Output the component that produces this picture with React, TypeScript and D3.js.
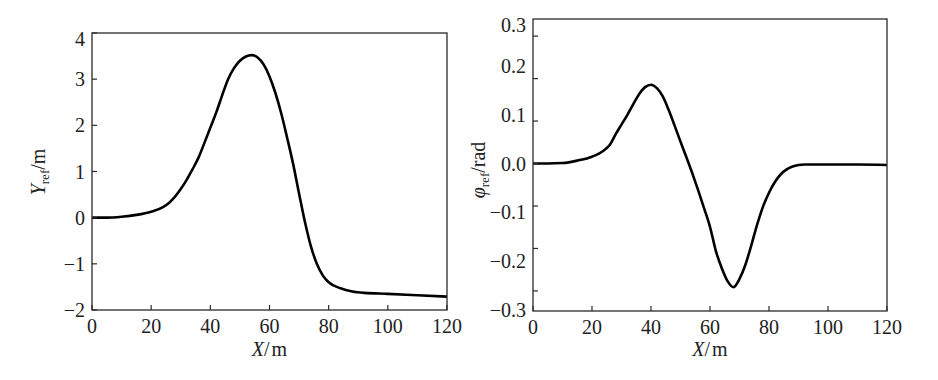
import React from "react";
import * as d3 from "d3";

// ---- data ----
const xTicks = [0, 20, 40, 60, 80, 100, 120];

const yLeftTicks = [-2, -1, 0, 1, 2, 3, 4];
const leftX = [0, 5, 10, 15, 20, 24, 26, 28, 30, 32, 34, 36, 38, 40, 42, 44, 46, 48, 50, 52, 54, 56, 58, 60, 62, 64, 66, 68, 70, 72, 74, 76, 78, 80, 84, 88, 92, 100, 110, 120];
const leftY = [0, 0, 0.02, 0.06, 0.13, 0.23, 0.32, 0.45, 0.62, 0.82, 1.05, 1.3, 1.62, 1.95, 2.28, 2.65, 3.0, 3.24, 3.4, 3.49, 3.52, 3.47, 3.32, 3.06, 2.7, 2.25, 1.72, 1.16, 0.52, -0.1, -0.62, -1.0, -1.25, -1.4, -1.53, -1.6, -1.63, -1.65, -1.68, -1.71];

const yRightLabels = [-0.3, -0.2, -0.1, 0.0, 0.1, 0.2, 0.3];
const yRightTickMarks = [-0.2618, -0.1745, -0.0873, 0, 0.0873, 0.1745, 0.2618];
const rightX = [0, 5, 10, 15, 20, 24, 26, 28, 30, 32, 34, 36, 38, 40, 42, 44, 46, 48, 50, 52, 54, 56, 58, 60, 62, 64, 66, 68, 70, 72, 74, 76, 78, 80, 82, 84, 86, 88, 90, 92, 95, 100, 110, 120];
const rightY = [0, 0, 0.001, 0.006, 0.014, 0.027, 0.038, 0.06, 0.08, 0.1, 0.122, 0.143, 0.157, 0.162, 0.155, 0.138, 0.11, 0.078, 0.045, 0.013, -0.02, -0.055, -0.092, -0.13, -0.18, -0.215, -0.242, -0.254, -0.237, -0.208, -0.168, -0.125, -0.088, -0.06, -0.038, -0.022, -0.012, -0.006, -0.003, -0.002, -0.002, -0.002, -0.002, -0.003];

const FONT = "'Liberation Serif', 'Times New Roman', Times, serif";
const FS = 20;
const AXIS = "#2a2a2a";

function fmtMinus(s: string) {
  return s.replace("-", "\u2212");
}

type PanelProps = {
  left: number; right: number; top: number; bottom: number;
  yDomain: [number, number];
  xs: number[]; ys: number[];
  yLabels: number[]; yTickMarks: number[];
  yFormat: (v: number) => string;
  yTitle: React.ReactNode;
};

function Panel(p: PanelProps) {
  const x = d3.scaleLinear().domain([0, 120]).range([p.left, p.right]);
  const y = d3.scaleLinear().domain(p.yDomain).range([p.bottom, p.top]);
  const pts = p.xs.map((v, i) => [v, p.ys[i]] as [number, number]);
  const line = d3.line<[number, number]>()
    .x(d => x(d[0]))
    .y(d => y(d[1]))
    .curve(d3.curveMonotoneX);
  const tl = 5;
  return (
    <g>
      <path d={line(pts) || ""} fill="none" stroke="#000" strokeWidth={2.6} strokeLinejoin="round" />
      <rect x={p.left} y={p.top} width={p.right - p.left} height={p.bottom - p.top} fill="none" stroke={AXIS} strokeWidth={1.3} />
      {xTicks.map(t => (
        <g key={"x" + t}>
          <line x1={x(t)} x2={x(t)} y1={p.bottom} y2={p.bottom - tl} stroke={AXIS} strokeWidth={1.2} />
          <text x={x(t)} y={p.bottom + 23} textAnchor="middle" fontFamily={FONT} fontSize={FS} fill="#222">{t}</text>
        </g>
      ))}
      {p.yTickMarks.map(t => (
        <line key={"ym" + t} x1={p.left} x2={p.left + tl} y1={y(t)} y2={y(t)} stroke={AXIS} strokeWidth={1.2} />
      ))}
      {p.yLabels.map(t => {
        const yy = Math.max(p.top + 6, Math.min(p.bottom, y(t)));
        return (
          <text key={"yl" + t} x={p.left - 7} y={yy} dy="0.35em" textAnchor="end" fontFamily={FONT} fontSize={FS} fill="#222">{fmtMinus(p.yFormat(t))}</text>
        );
      })}
      <text x={(p.left + p.right) / 2} y={356} textAnchor="middle" fontFamily={FONT} fontSize={FS} fill="#222">
        <tspan fontStyle="italic">X</tspan>
        <tspan>/</tspan>
        <tspan dx={2}>m</tspan>
      </text>
      {p.yTitle}
    </g>
  );
}

export default function App() {
  const leftTitle = (
    <text transform="translate(45,172) rotate(-90)" textAnchor="middle" fontFamily={FONT} fontSize={FS} fill="#222">
      <tspan fontStyle="italic">Y</tspan>
      <tspan fontSize={13} dy={4}>ref</tspan>
      <tspan dy={-4}>/m</tspan>
    </text>
  );
  const rightTitle = (
    <text transform="translate(485,170) rotate(-90)" textAnchor="middle" fontFamily={FONT} fontSize={FS} fill="#222">
      <tspan fontStyle="italic">φ</tspan>
      <tspan fontSize={13} dy={4}>ref</tspan>
      <tspan dy={-4}>/rad</tspan>
    </text>
  );
  return (
    <svg width={938} height={380} style={{ position: "absolute", left: 0, top: 0, background: "#fff" }}>
      <rect width={938} height={380} fill="#fff" />
      <Panel left={92} right={447} top={33} bottom={310} yDomain={[-2, 4]}
        xs={leftX} ys={leftY} yLabels={yLeftTicks} yTickMarks={yLeftTicks}
        yFormat={v => String(v)} yTitle={leftTitle} />
      <Panel left={533} right={887} top={19} bottom={311} yDomain={[-0.303, 0.297]}
        xs={rightX} ys={rightY} yLabels={yRightLabels} yTickMarks={yRightTickMarks}
        yFormat={v => v.toFixed(1)} yTitle={rightTitle} />
    </svg>
  );
}
